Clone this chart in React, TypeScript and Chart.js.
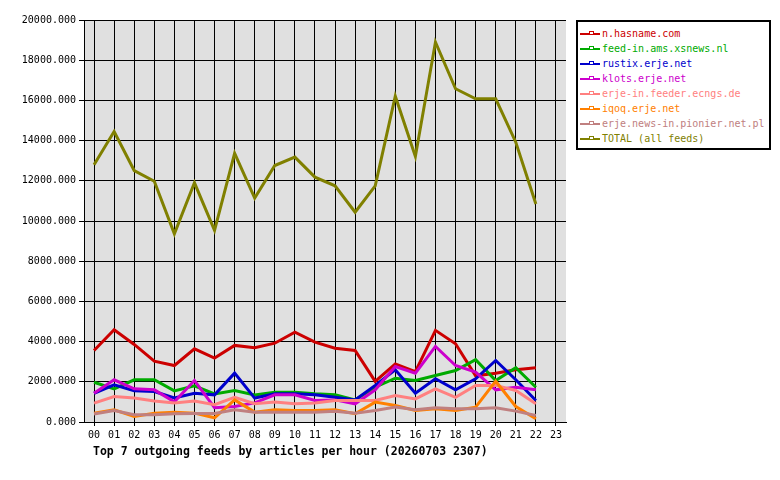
import React, { useEffect, useRef } from "react";
import { Chart, registerables } from "chart.js";

Chart.register(...registerables);

const hours = ["00","01","02","03","04","05","06","07","08","09","10","11","12","13","14","15","16","17","18","19","20","21","22","23"];

const seriesNames = [
  "n.hasname.com",
  "feed-in.ams.xsnews.nl",
  "rustix.erje.net",
  "klots.erje.net",
  "erje-in.feeder.ecngs.de",
  "iqoq.erje.net",
  "erje.news-in.pionier.net.pl",
  "TOTAL (all feeds)",
];

const seriesColors = ["#cc0000", "#00aa00", "#0000cc", "#cc00cc", "#ff8080", "#ff8000", "#c08080", "#808000"];

const hasname = [3560, 4590, 3860, 3030, 2810, 3640, 3180, 3810, 3690, 3920, 4470, 3970, 3670, 3560, 2020, 2890, 2510, 4560, 3890, 2300, 2430, 2600, 2700];
const amsXsnews = [1980, 1650, 2100, 2100, 1550, 1800, 1400, 1570, 1340, 1480, 1480, 1400, 1360, 1100, 1730, 2180, 2065, 2310, 2560, 3100, 2065, 2700, 1730];
const rustix = [1430, 1850, 1560, 1520, 1200, 1430, 1350, 2430, 1190, 1400, 1400, 1350, 1230, 1100, 1820, 2600, 1430, 2150, 1600, 2150, 3060, 2100, 1070];
const klots = [1430, 2100, 1650, 1600, 1000, 2065, 710, 770, 950, 1350, 1350, 1070, 1100, 905, 1600, 2760, 2430, 3760, 2810, 2480, 1600, 1730, 1600];
const feederEcngs = [940, 1270, 1190, 1040, 940, 1040, 860, 1230, 910, 990, 910, 940, 1070, 1070, 1070, 1320, 1150, 1650, 1230, 1820, 1820, 1570, 910];
const iqoq = [440, 610, 280, 440, 490, 440, 210, 1100, 490, 610, 570, 570, 610, 410, 990, 820, 570, 660, 570, 740, 2030, 770, 160];
const pionier = [400, 570, 360, 360, 410, 420, 420, 610, 490, 490, 490, 490, 540, 440, 570, 740, 610, 710, 660, 660, 710, 540, 320];
const total = [12800, 14450, 12510, 11980, 9360, 11900, 9530, 13370, 11140, 12760, 13180, 12180, 11750, 10440, 11750, 16210, 13210, 18900, 16580, 16080, 16080, 13920, 10850];

const seriesValues = [hasname, amsXsnews, rustix, klots, feederEcngs, iqoq, pionier, total];

const yTicks = [0, 2000, 4000, 6000, 8000, 10000, 12000, 14000, 16000, 18000, 20000];

const titleText = "Top 7 outgoing feeds by articles per hour (20260703 2307)";

const MONO = "'DejaVu Sans Mono', monospace";

const plotBg = {
  id: "plotBg",
  beforeDraw(chart: any) {
    const { ctx, chartArea } = chart;
    ctx.save();
    ctx.fillStyle = "#e0e0e0";
    ctx.fillRect(chartArea.left, chartArea.top, chartArea.right - chartArea.left, chartArea.bottom - chartArea.top);
    ctx.restore();
  },
};

export default function App() {
  const ref = useRef<HTMLCanvasElement | null>(null);

  useEffect(() => {
    if (!ref.current) return;
    const chart = new Chart(ref.current, {
      type: "line",
      data: {
        labels: hours,
        datasets: seriesNames.map((name, i) => ({
          label: name,
          data: seriesValues[i],
          borderColor: seriesColors[i],
          backgroundColor: seriesColors[i],
          borderWidth: 3,
          pointRadius: 0,
          tension: 0,
          fill: false,
          order: i === 7 ? 0 : 8 - i,
        })),
      },
      options: {
        animation: false,
        responsive: false,
        maintainAspectRatio: false,
        layout: { padding: { left: 0, right: 214, top: 20, bottom: 0 } },
        plugins: {
          legend: { display: false },
          tooltip: { enabled: false },
          title: { display: false },
        },
        scales: {
          x: {
            type: "category",
            offset: true,
            grid: { color: "#000000", lineWidth: 1, offset: false, tickLength: 4, drawTicks: true },
            border: { color: "#000000", width: 1 },
            ticks: {
              color: "#000000",
              font: { family: MONO, size: 10 },
              padding: 3,
              maxRotation: 0,
              autoSkip: false,
            },
            afterFit(scale: any) {
              scale.height = 58;
            },
          },
          y: {
            min: 0,
            max: 20000,
            afterBuildTicks(scale: any) {
              scale.ticks = yTicks.map((v) => ({ value: v }));
            },
            grid: { color: "#000000", lineWidth: 1, tickLength: 5 },
            border: { color: "#000000", width: 1 },
            ticks: {
              color: "#000000",
              font: { family: MONO, size: 10 },
              padding: 3,
              callback: (v: any) => Number(v).toFixed(3),
            },
            afterFit(scale: any) {
              scale.width = 84;
            },
          },
        },
      },
      plugins: [plotBg],
    });
    return () => chart.destroy();
  }, []);

  return (
    <div style={{ position: "fixed", left: 0, top: 0, width: 780, height: 480, background: "#ffffff" }}>
      <canvas ref={ref} width={780} height={480} style={{ position: "absolute", left: 0, top: 0 }} />
      <div
        style={{
          position: "absolute",
          left: 93,
          top: 444,
          fontFamily: MONO,
          fontWeight: "bold",
          fontSize: 11.5,
          color: "#000",
          whiteSpace: "nowrap",
          lineHeight: "14px",
        }}
      >
        {titleText}
      </div>
      <div
        style={{
          position: "absolute",
          left: 576,
          top: 20,
          width: 191,
          height: 126,
          border: "2px solid #000",
          background: "#fff",
        }}
      >
        {seriesNames.map((name, i) => (
          <div
            key={name}
            style={{
              position: "absolute",
              left: 2,
              top: 5 + i * 15,
              height: 14,
              display: "flex",
              alignItems: "center",
              whiteSpace: "nowrap",
            }}
          >
            <div style={{ position: "relative", width: 22, height: 14 }}>
              <div style={{ position: "absolute", left: 0, top: 6, width: 20, height: 2, background: seriesColors[i] }} />
              <div
                style={{
                  position: "absolute",
                  left: 9,
                  top: 4,
                  width: 3,
                  height: 2,
                  border: `1px solid ${seriesColors[i]}`,
                  background: "#fff",
                }}
              />
            </div>
            <span style={{ fontFamily: MONO, fontSize: 10, color: seriesColors[i], lineHeight: "14px" }}>{name}</span>
          </div>
        ))}
      </div>
    </div>
  );
}
